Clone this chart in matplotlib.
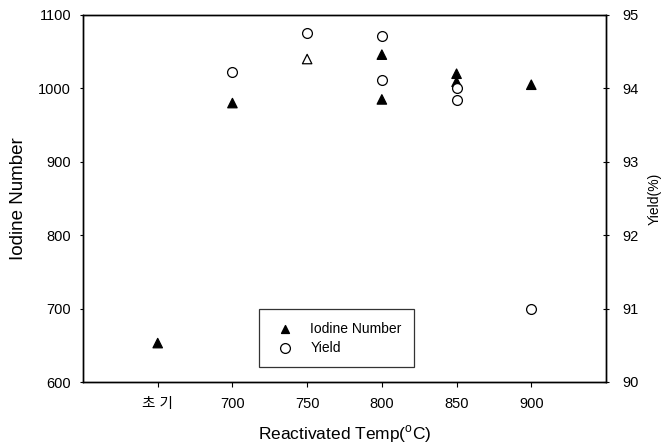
import matplotlib.pyplot as plt

# Daten
x_ticks = [650, 700, 750, 800, 850, 900]
x_labels = ['초 기', '700', '750', '800', '850', '900']

iodine_temp = [650, 700, 750, 800, 800, 850, 850, 900]
iodine_num = [653, 980, 1040, 1046, 985, 1020, 1009, 1005]
iodine_filled = [True, True, False, True, True, True, True, True]

yield_temp = [700, 750, 800, 800, 850, 850, 900]
yield_pct = [94.23, 94.75, 94.72, 94.11, 94.0, 93.84, 91.0]

plt.rcParams['font.family'] = ['Liberation Sans', 'Noto Sans CJK KR']

W, H = 668, 447
fig = plt.figure(figsize=(W / 100, H / 100), dpi=100)
# Achsenbereich in Pixeln: links 83, rechts 606, oben 15, unten 382
ax = fig.add_axes([83 / W, 1 - 382 / H, (606 - 83) / W, (382 - 15) / H])
ax2 = ax.twinx()

face = ['black' if f else 'white' for f in iodine_filled]
ax.scatter(iodine_temp, iodine_num, marker='^', s=46, facecolors=face,
           edgecolors='black', linewidths=0.9, zorder=3)
h2 = ax2.scatter(yield_temp, yield_pct, marker='o', s=50, facecolors='white',
                 edgecolors='black', linewidths=0.9, zorder=3)

ax.set_xlim(600, 950)
ax.set_ylim(600, 1100)
ax2.set_ylim(90, 95)
ax.set_xticks(x_ticks)
ax.set_xticklabels(x_labels)
ax.set_yticks([600, 700, 800, 900, 1000, 1100])
ax2.set_yticks([90, 91, 92, 93, 94, 95])

ax.tick_params(axis='x', direction='out', length=3.5, labelsize=10.5, pad=7)
ax.tick_params(axis='y', direction='out', length=2.5, labelsize=10.5, pad=6)
ax2.tick_params(axis='y', direction='inout', length=5, labelsize=10.5, pad=9)

ax.set_xlabel('Reactivated Temp($^{\\mathregular{o}}$C)', fontsize=12.5, labelpad=9)
ax.set_ylabel('Iodine Number', fontsize=13.5, labelpad=8)
ax2.set_ylabel('Yield(%)', fontsize=10, labelpad=7)

for a in (ax, ax2):
    for s in a.spines.values():
        s.set_linewidth(1.0)

# Legende mit eigenem (kleinerem) Dreieck
h1_leg = ax.scatter([], [], marker='^', s=32, facecolors='black', edgecolors='black')
leg = ax.legend([h1_leg, h2], ['Iodine Number', 'Yield'], loc='lower left',
                bbox_to_anchor=((259 - 83) / 523, (382 - 367) / 367),
                fontsize=10, frameon=True, fancybox=False, edgecolor='black',
                borderpad=0.9, handletextpad=0.8, labelspacing=0.35,
                borderaxespad=0, handlelength=2.0)
leg.get_frame().set_linewidth(0.9)

plt.savefig('out.png', dpi=100)
